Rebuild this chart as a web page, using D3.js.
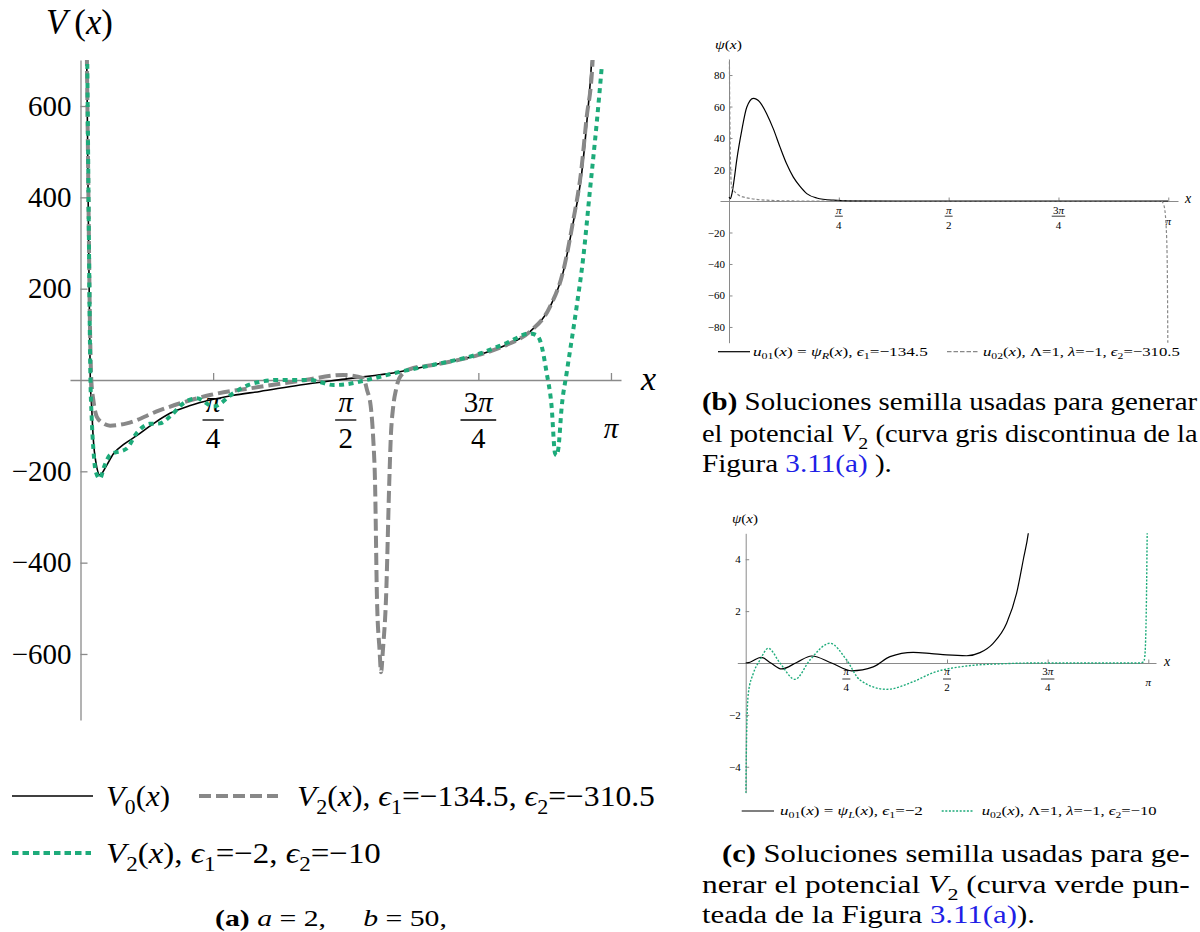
<!DOCTYPE html>
<html>
<head>
<meta charset="utf-8">
<title>Potenciales V2 y soluciones semilla</title>
<script src="https://d3js.org/d3.v7.min.js"></script>
<style>
html, body { margin: 0; padding: 0; background: #fff; }
svg { display: block; font-family: 'Liberation Serif', 'Times New Roman', 'DejaVu Serif', serif; }
</style>
</head>
<body>
<svg id="fig" width="1200" height="932"></svg>
<script>
const PI = Math.PI;

// x ticks shared by the three panels
const xFracs = [
  {v: PI / 4, n: ['', 'π'], d: '4'},
  {v: PI / 2, n: ['', 'π'], d: '2'},
  {v: 3 * PI / 4, n: ['3', 'π'], d: '4'},
  {v: PI, n: ['', 'π'], d: null}
];

// ---- panel (a): potentials, [x, V]
const aYTicks = [-600, -400, -200, 200, 400, 600];
const v0Pts = [[0.030,900],[0.037,700],[0.042,520],[0.048,300],[0.054,120],[0.058,0],[0.066,-58],[0.076,-131],
  [0.092,-182],[0.115,-208],[0.150,-190],[0.194,-162],[0.260,-140],[0.333,-122],[0.430,-96],[0.530,-73],
  [0.650,-56],[0.767,-44],[0.900,-34],[1.063,-25],[1.300,-11],[1.566,2],[1.892,18],[2.087,33],[2.358,55],
  [2.524,77],[2.662,106],[2.780,160],[2.857,234],[2.917,343],[2.968,452],[2.998,562],[3.027,700],[3.045,850]];
const v2GrayPts = [[0.032,900],[0.038,700],[0.044,500],[0.050,300],[0.056,120],[0.064,0],[0.076,-44],[0.096,-80],
  [0.135,-95],[0.175,-100],[0.274,-95],[0.471,-66],[0.767,-33],[1.063,-15],[1.300,-2],[1.556,11],[1.675,4],
  [1.697,-22],[1.719,-58],[1.734,-131],[1.744,-219],[1.756,-482],[1.771,-591],[1.780,-640],[1.791,-591],
  [1.809,-482],[1.829,-219],[1.837,-131],[1.852,-58],[1.868,-22],[1.888,4],[1.950,24],[2.087,33],[2.358,55],
  [2.524,77],[2.662,106],[2.780,160],[2.857,236],[2.917,347],[2.966,460],[2.996,570],[3.033,700],[3.050,850]];
const v2GreenPts = [[0.034,900],[0.040,700],[0.045,500],[0.050,300],[0.055,110],[0.059,0],[0.066,-80],[0.076,-150],
  [0.090,-200],[0.115,-216],[0.140,-190],[0.175,-164],[0.274,-150],[0.333,-116],[0.410,-96],[0.471,-95],
  [0.530,-80],[0.609,-51],[0.688,-40],[0.787,-58],[0.905,-29],[1.000,-10],[1.063,-4],[1.162,0],[1.359,0],
  [1.500,-11],[1.580,-9],[1.695,0],[1.892,18],[2.087,33],[2.366,58],[2.524,81],[2.662,102],[2.700,98],
  [2.721,87],[2.761,15],[2.790,-58],[2.810,-160],[2.820,-165],[2.830,-150],[2.850,-58],[2.879,15],
  [2.938,160],[2.978,270],[3.017,415],[3.057,562],[3.087,685]];

// ---- panel (b): seeds for gray curve, [x, psi]
const bYTicks = [-80, -60, -40, -20, 20, 40, 60, 80];
const bU01 = [[0,2.5],[0.010,1.5],[0.021,4.7],[0.036,13.1],[0.055,25.8],[0.091,44.7],[0.127,59.5],[0.174,65.2],
  [0.222,62.7],[0.270,55.3],[0.317,45.8],[0.365,34.2],[0.412,23.6],[0.460,15.2],[0.508,9.3],[0.556,4.7],
  [0.627,1.9],[0.746,0.5],[0.865,0.1],[1.200,0],[3.140,0]];
const bU02 = [[0.0024,95],[0.0048,65.8],[0.0072,44.7],[0.012,19.4],[0.019,8.9],[0.055,4.7],[0.100,2.6],
  [0.270,0.5],[0.510,0],[3.090,0],[3.110,-2.7],[3.125,-14.3],[3.134,-39.6],[3.1385,-95]];

// ---- panel (c): seeds for green curve, [x, psi]
const cYTicks = [-4, -2, 2, 4];
const cU01 = [[0,0],[0.034,0.03],[0.119,0.22],[0.197,0],[0.280,-0.23],[0.398,0.02],[0.515,0.27],[0.670,0],
  [0.827,-0.30],[0.995,-0.15],[1.126,0.245],[1.307,0.41],[1.450,0.36],[1.568,0.31],[1.724,0.28],[1.828,0.40],
  [1.931,0.76],[2.036,1.53],[2.114,2.69],[2.166,3.98],[2.205,5.0],[2.220,5.6]];
const cU02 = [[0.001,-5.3],[0.0075,-2.71],[0.0205,-1.17],[0.0595,-0.40],[0.1115,0.116],[0.1765,0.566],
  [0.2675,0],[0.3845,-0.63],[0.5015,0.116],[0.6575,0.76],[0.7875,0.116],[0.8915,-0.656],[1.0995,-1.016],
  [1.307,-0.72],[1.4635,-0.373],[1.7235,-0.116],[2.000,-0.03],[2.260,0],[3.075,0],[3.105,0.05],[3.114,0.245],
  [3.127,2.43],[3.133,5.0],[3.135,5.6]];

const GREEN = '#1dab7a', GRAY = '#888888', AXIS = '#8a8a8a';
const svg = d3.select('#fig');
const minus = d => d < 0 ? '−' + Math.abs(d) : String(d);

// math-ish text: parts = [text, flags]; i italic, b bold, s subscript, l link colour
function rich(parent, parts, size) {
  const t = parent.append('text').attr('font-size', size);
  let sub = false;
  parts.forEach(([s, f]) => {
    const sp = t.append('tspan').text(s);
    if (f.includes('i')) sp.attr('font-style', 'italic');
    if (f.includes('b')) sp.attr('font-weight', 'bold');
    if (f.includes('l')) sp.attr('fill', '#1f1fe6');
    const isSub = f.includes('s');
    if (isSub && !sub) sp.attr('dy', 0.26 * size);
    if (!isSub && sub) sp.attr('dy', -0.26 * size);
    if (isSub) sp.attr('font-size', 0.7 * size);
    sub = isSub;
  });
  return t;
}
function place(parts, size, x0, base, w) {
  const g = svg.append('g');
  const t = rich(g, parts, size);
  const s = w ? w / t.node().getBBox().width : 1;
  g.attr('transform', `translate(${x0},${base}) scale(${s},1)`);
  return g;
}

function panel(cfg) {
  const x = d3.scaleLinear().domain(cfg.xd).range(cfg.xr);
  const y = d3.scaleLinear().domain(cfg.yd).range(cfg.yr);
  const g = svg.append('g');
  const y0 = y(0), x0 = x(0);

  const xa = g.append('g').attr('transform', `translate(0,${y0})`)
    .call(d3.axisBottom(x).tickValues(xFracs.map(f => f.v)).tickSize(-cfg.tk).tickSizeOuter(0).tickFormat(''));
  const ya = g.append('g').attr('transform', `translate(${x0},0)`)
    .call(d3.axisLeft(y).tickValues(cfg.yTicks).tickSize(-cfg.tk).tickSizeOuter(0).tickPadding(cfg.pad).tickFormat(minus));
  [xa, ya].forEach(a => {
    a.attr('font-family', null).attr('font-size', cfg.fs);
    a.selectAll('path, line').attr('stroke', AXIS).attr('stroke-width', cfg.aw);
    a.selectAll('text').attr('fill', '#000');
  });

  // fraction tick labels
  xFracs.forEach(f => {
    const c = g.append('g').attr('transform', `translate(${x(f.v)},${y0})`)
      .attr('font-size', cfg.fs).attr('text-anchor', 'middle');
    if (f.d) {
      const n = c.append('text').attr('y', cfg.off.num);
      n.append('tspan').text(f.n[0]);
      n.append('tspan').attr('font-style', 'italic').text(f.n[1]);
      const d = c.append('text').attr('y', cfg.off.den).text(f.d);
      const w = Math.max(n.node().getBBox().width, d.node().getBBox().width) + cfg.fs * 0.18;
      c.append('line').attr('x1', -w / 2).attr('x2', w / 2)
        .attr('y1', cfg.off.bar).attr('y2', cfg.off.bar)
        .attr('stroke', '#000').attr('stroke-width', Math.max(0.8, cfg.fs * 0.045));
    } else {
      c.append('text').attr('y', cfg.off.pi).attr('font-style', 'italic').text('π');
    }
  });

  // axis labels
  cfg.labels.forEach(l => place(l.parts, l.size, l.x, l.y, l.w));

  // curves
  const id = 'clip' + cfg.name;
  g.append('clipPath').attr('id', id).append('rect')
    .attr('x', cfg.xr[0]).attr('y', cfg.yr[1])
    .attr('width', cfg.xr[1] - cfg.xr[0]).attr('height', cfg.yr[0] - cfg.yr[1]);
  const line = d3.line().x(d => x(d[0])).y(d => y(d[1])).curve(d3.curveMonotoneX);
  g.append('g').attr('clip-path', `url(#${id})`).selectAll('path')
    .data(cfg.series).join('path')
    .attr('fill', 'none')
    .attr('stroke', s => s.color)
    .attr('stroke-width', s => s.w)
    .attr('stroke-dasharray', s => s.dash)
    .attr('d', s => line(s.pts));

  // legend samples + texts
  cfg.legend.forEach(l => {
    const s = cfg.series[l.s];
    g.append('line').attr('x1', l.x1).attr('x2', l.x2).attr('y1', l.y).attr('y2', l.y)
      .attr('stroke', s.color).attr('stroke-width', l.w || s.w).attr('stroke-dasharray', l.dash || s.dash);
    place(l.parts, l.size, l.tx, l.ty, l.tw);
  });
}

const Vx = n => [['V', 'i'], [n, 's'], ['(', ''], ['x', 'i'], [')', '']];

panel({
  name: 'a', xd: [-0.0622, 3.201], xr: [70, 621], yd: [-744.6, 700.8], yr: [720, 60],
  yTicks: aYTicks, tk: 7, pad: 9, fs: 29, aw: 1.3,
  off: {num: 32, bar: 40, den: 68, pi: 58},
  labels: [
    {parts: [['V', 'i'], ['\u2009(', ''], ['x', 'i'], [')', '']], size: 36, x: 46, y: 34, w: 67},
    {parts: [['x', 'i']], size: 34, x: 641, y: 390}
  ],
  series: [
    {pts: v0Pts, color: '#000', w: 1.6, dash: null},
    {pts: v2GrayPts, color: GRAY, w: 4, dash: '12,5'},
    {pts: v2GreenPts, color: GREEN, w: 4, dash: '5,4.5'}
  ],
  legend: [
    {s: 0, x1: 12, x2: 93, y: 796, parts: Vx('0'), size: 30, tx: 106, ty: 806, tw: 64},
    {s: 1, x1: 199, x2: 278, y: 796, parts: Vx('2').concat([[', ', ''], ['ϵ', 'i'], ['1', 's'], ['=−134.5, ', ''], ['ϵ', 'i'], ['2', 's'], ['=−310.5', '']]),
      size: 30, tx: 297, ty: 806, tw: 358},
    {s: 2, x1: 12, x2: 91, y: 853, dash: '6.5,4', parts: Vx('2').concat([[', ', ''], ['ϵ', 'i'], ['1', 's'], ['=−2, ', ''], ['ϵ', 'i'], ['2', 's'], ['=−10', '']]),
      size: 30, tx: 106, ty: 863, tw: 275}
  ]
});

panel({
  name: 'b', xd: [-0.0644, 3.211], xr: [720, 1178], yd: [-90, 90], yr: [342.7, 59.3],
  yTicks: bYTicks, tk: 3.5, pad: 4, fs: 11, aw: 1,
  off: {num: 13, bar: 15.2, den: 27.5, pi: 23.5},
  labels: [
    {parts: [['ψ', 'i'], ['(', ''], ['x', 'i'], [')', '']], size: 13, x: 715, y: 49, w: 27},
    {parts: [['x', 'i']], size: 14, x: 1185, y: 203}
  ],
  series: [
    {pts: bU01, color: '#000', w: 1.2, dash: null},
    {pts: bU02, color: GRAY, w: 1.2, dash: '3,2'}
  ],
  legend: [
    {s: 0, x1: 718, x2: 750, y: 351.7, parts: [['u', 'i'], ['01', 's'], ['(', ''], ['x', 'i'], [') = ', ''], ['ψ', 'i'], ['R', 'is'], ['(', ''], ['x', 'i'], ['), ', ''], ['ϵ', 'i'], ['1', 's'], ['=−134.5', '']],
      size: 13, tx: 753, ty: 356, tw: 175},
    {s: 1, x1: 947, x2: 978, y: 351.7, dash: '4.5,2', parts: [['u', 'i'], ['02', 's'], ['(', ''], ['x', 'i'], ['), Λ=1, ', ''], ['λ', 'i'], ['=−1, ', ''], ['ϵ', 'i'], ['2', 's'], ['=−310.5', '']],
      size: 13, tx: 983, ty: 356, tw: 197}
  ]
});

panel({
  name: 'c', xd: [-0.0655, 3.2016], xr: [737.3, 1156], yd: [-5, 5], yr: [792.7, 533.3],
  yTicks: cYTicks, tk: 3.5, pad: 5, fs: 11, aw: 1,
  off: {num: 11.5, bar: 16, den: 28, pi: 23},
  labels: [
    {parts: [['ψ', 'i'], ['(', ''], ['x', 'i'], [')', '']], size: 13, x: 732, y: 523, w: 26},
    {parts: [['x', 'i']], size: 14, x: 1164, y: 666}
  ],
  series: [
    {pts: cU01, color: '#000', w: 1.2, dash: null},
    {pts: cU02, color: GREEN, w: 1.4, dash: '2,1.6'}
  ],
  legend: [
    {s: 0, x1: 741.7, x2: 774, y: 811, parts: [['u', 'i'], ['01', 's'], ['(', ''], ['x', 'i'], [') = ', ''], ['ψ', 'i'], ['L', 'is'], ['(', ''], ['x', 'i'], ['), ', ''], ['ϵ', 'i'], ['1', 's'], ['=−2', '']],
      size: 13, tx: 780, ty: 815, tw: 143},
    {s: 1, x1: 941.7, x2: 973, y: 811, parts: [['u', 'i'], ['02', 's'], ['(', ''], ['x', 'i'], ['), Λ=1, ', ''], ['λ', 'i'], ['=−1, ', ''], ['ϵ', 'i'], ['2', 's'], ['=−10', '']],
      size: 13, tx: 981.7, ty: 815, tw: 175}
  ]
});

// captions
place([['(a)', 'b'], ['\u00a0', ''], ['a', 'i'], ['\u00a0=\u00a02,\u00a0\u00a0\u00a0\u00a0\u00a0', ''], ['b', 'i'], ['\u00a0=\u00a050,', '']], 24, 215, 926, 232);

const capB = [
  [[['(b)', 'b'], [' Soluciones semilla usadas para generar', '']], 702, 410, 496],
  [[['el potencial ', ''], ['V', 'i'], ['2', 's'], [' (curva gris discontinua de la', '']], 702, 442, 496],
  [[['Figura ', ''], ['3.11(a)', 'l'], ['\u00a0).', '']], 702, 472, 190]
];
const capC = [
  [[['(c)', 'b'], [' Soluciones semilla usadas para ge-', '']], 722, 862, 468],
  [[['nerar el potencial ', ''], ['V', 'i'], ['2', 's'], [' (curva verde pun-', '']], 702, 893, 488],
  [[['teada de la Figura ', ''], ['3.11(a)', 'l'], [').', '']], 702, 923, 333]
];
capB.concat(capC).forEach(([parts, x0, base, w]) => place(parts, 25, x0, base, w));
</script>
</body>
</html>
